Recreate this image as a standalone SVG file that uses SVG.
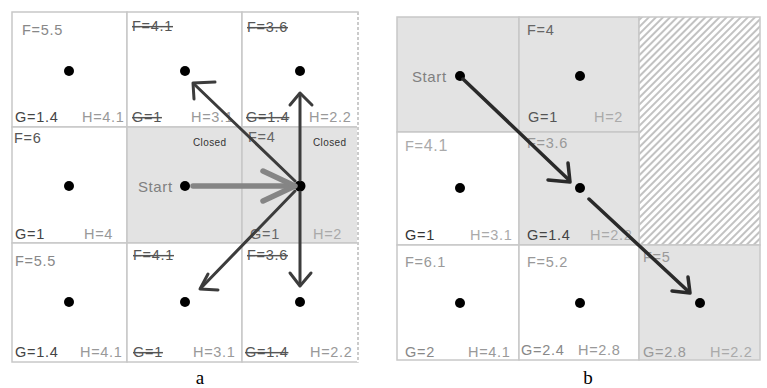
<svg xmlns="http://www.w3.org/2000/svg" width="767" height="388" viewBox="0 0 767 388">
<style>
.cell{stroke:#c8c8c8;stroke-width:1.5;fill:#fff}
.gray{fill:#e3e3e3}
.hatch{fill:url(#hp)}
.t{font-family:"Liberation Sans",Arial,sans-serif;font-size:14.5px;letter-spacing:0.7px}
.c{font-family:"Liberation Sans",Arial,sans-serif;font-size:10px;fill:#333;letter-spacing:0.4px}
.st{font-family:"Liberation Sans",Arial,sans-serif;font-size:15px;fill:#808080;letter-spacing:0.6px}
.s{text-decoration:line-through;fill:#555}
.dot{fill:#000}
.lab{font-family:"Liberation Serif","Times New Roman",serif;font-size:19px;fill:#000;text-anchor:middle}
.arr{fill:none;stroke:#3c3c3c;stroke-width:3;stroke-linecap:round;stroke-linejoin:round}
.arrb{fill:none;stroke:#2a2a2a;stroke-width:3.5;stroke-linecap:round;stroke-linejoin:round}
.thick{fill:none;stroke:#858585;stroke-width:5.5;stroke-linecap:round;stroke-linejoin:round}
</style>
<defs>
<pattern id="hp" patternUnits="userSpaceOnUse" width="5" height="5" patternTransform="rotate(45)">
<rect width="5" height="5" fill="#fff"/>
<line x1="1" y1="0" x2="1" y2="5" stroke="#a8a8a8" stroke-width="1.4"/>
</pattern>
</defs>
<rect width="767" height="388" fill="#fff"/>

<!-- Panel a -->
<g id="a-r1c1"><rect class="cell" x="12" y="12" width="115" height="115"/><circle class="dot" cx="69" cy="71" r="5"/>
<text class="t" x="22" y="35" fill="#888">F=5.5</text><text class="t" x="15" y="122" fill="#444">G=1.4</text><text class="t" x="82" y="122" fill="#999">H=4.1</text></g>
<g id="a-r1c2"><rect class="cell" x="127" y="12" width="115" height="115"/><circle class="dot" cx="185" cy="71" r="5"/>
<text class="t s" x="132" y="31">F=4.1</text><text class="t s" x="132" y="122">G=1</text><text class="t" x="191" y="122" fill="#999">H=3.1</text></g>
<g id="a-r1c3"><rect class="cell" x="242" y="12" width="116" height="115"/><circle class="dot" cx="300" cy="71" r="5"/>
<text class="t s" x="247" y="32">F=3.6</text><text class="t s" x="246" y="122">G=1.4</text><text class="t" x="309" y="122" fill="#999">H=2.2</text></g>

<g id="a-r2c1"><rect class="cell" x="12" y="127" width="115" height="116"/><circle class="dot" cx="69" cy="186" r="5"/>
<text class="t" x="14" y="143" fill="#555">F=6</text><text class="t" x="15" y="239" fill="#444">G=1</text><text class="t" x="84" y="239" fill="#999">H=4</text></g>
<g id="a-r2c2"><rect class="cell gray" x="127" y="127" width="115" height="116"/><circle class="dot" cx="185" cy="186" r="5"/>
<text class="st" x="138" y="192">Start</text><text class="c" x="193" y="146">Closed</text></g>
<g id="a-r2c3"><rect class="cell gray" x="242" y="127" width="116" height="116"/><circle class="dot" cx="300" cy="186" r="5.5"/>
<text class="t" x="248" y="142" fill="#666">F=4</text><text class="c" x="313" y="146">Closed</text>
<text class="t" x="250" y="239" fill="#666">G=1</text><text class="t" x="313" y="239" fill="#aaa">H=2</text></g>

<g id="a-r3c1"><rect class="cell" x="12" y="243" width="115" height="119"/><circle class="dot" cx="69" cy="302" r="5"/>
<text class="t" x="15" y="266" fill="#888">F=5.5</text><text class="t" x="15" y="357" fill="#444">G=1.4</text><text class="t" x="80" y="357" fill="#999">H=4.1</text></g>
<g id="a-r3c2"><rect class="cell" x="127" y="243" width="115" height="119"/><circle class="dot" cx="185" cy="302" r="5"/>
<text class="t s" x="133" y="260">F=4.1</text><text class="t s" x="133" y="357">G=1</text><text class="t" x="193" y="357" fill="#999">H=3.1</text></g>
<g id="a-r3c3"><rect class="cell" x="242" y="243" width="116" height="119"/><circle class="dot" cx="300" cy="302" r="5"/>
<text class="t s" x="247" y="260">F=3.6</text><text class="t s" x="245" y="357">G=1.4</text><text class="t" x="310" y="357" fill="#999">H=2.2</text></g>
<line x1="358" y1="12" x2="358" y2="362" stroke="#fff" stroke-width="2"/>
<line x1="358" y1="12" x2="358" y2="362" stroke="#bbb" stroke-width="1.5" stroke-dasharray="3,2"/>
<text class="lab" x="200" y="384">a</text>

<!-- Panel b -->
<g id="b-r1c1"><rect class="cell gray" x="397" y="17" width="122" height="115"/><circle class="dot" cx="460" cy="76" r="5"/>
<text class="st" x="412" y="82">Start</text></g>
<g id="b-r1c2"><rect class="cell gray" x="519" y="17" width="120" height="115"/><circle class="dot" cx="580" cy="76" r="5"/>
<text class="t" x="527" y="35" fill="#666">F=4</text><text class="t" x="528" y="122" fill="#555">G=1</text><text class="t" x="594" y="122" fill="#aaa">H=2</text></g>
<g id="b-blocked"><rect class="cell hatch" x="639" y="17" width="121" height="228"/></g>

<g id="b-r2c1"><rect class="cell" x="397" y="132" width="122" height="113"/><circle class="dot" cx="460" cy="188" r="5"/>
<text class="t" x="405" y="151" fill="#aaa">F=<tspan font-size="16">4.1</tspan></text><text class="t" x="405" y="240" fill="#333">G=1</text><text class="t" x="470" y="240" fill="#aaa">H=3.1</text></g>
<g id="b-r2c2"><rect class="cell gray" x="519" y="132" width="120" height="113"/><circle class="dot" cx="580" cy="188" r="5"/>
<text class="t" x="527" y="148" fill="#999">F=3.6</text><text class="t" x="527" y="240" fill="#444">G=1.4</text><text class="t" x="590" y="240" fill="#aaa">H=2.2</text></g>

<g id="b-r3c1"><rect class="cell" x="397" y="245" width="122" height="115"/><circle class="dot" cx="460" cy="303" r="5"/>
<text class="t" x="405" y="267" fill="#999">F=6.1</text><text class="t" x="405" y="357" fill="#888">G=2</text><text class="t" x="468" y="357" fill="#999">H=4.1</text></g>
<g id="b-r3c2"><rect class="cell" x="519" y="245" width="120" height="115"/><circle class="dot" cx="580" cy="303" r="5"/>
<text class="t" x="527" y="267" fill="#999">F=5.2</text><text class="t" x="521" y="355" fill="#888">G=2.4</text><text class="t" x="578" y="355" fill="#999">H=2.8</text></g>
<g id="b-r3c3"><rect class="cell gray" x="639" y="245" width="121" height="115"/><circle class="dot" cx="700" cy="303" r="5"/>
<text class="t" x="643" y="262" fill="#999">F=5</text><text class="t" x="643" y="357" fill="#999">G=2.8</text><text class="t" x="710" y="357" fill="#aaa">H=2.2</text></g>
<text class="lab" x="588" y="384">b</text>

<!-- Connectors -->
<g id="connectors">
<line class="thick" x1="193" y1="186" x2="293" y2="186"/>
<polyline class="thick" points="263,171 295,186 263,201"/>
<line class="arr" x1="300" y1="180" x2="300" y2="94"/>
<polyline class="arr" points="290,105 300,93 312,105"/>
<line class="arr" x1="295" y1="181" x2="194" y2="84"/>
<polyline class="arr" points="215,82 193,83 194,99"/>
<line class="arr" x1="295" y1="191" x2="201" y2="288"/>
<polyline class="arr" points="208,274 200,289 218,290"/>
<line class="arr" x1="300" y1="192" x2="300" y2="285"/>
<polyline class="arr" points="290,273 300,286 311,273"/>
<line class="arrb" x1="463" y1="79" x2="569" y2="180"/>
<polyline class="arrb" points="548,180 570,182 568,163"/>
<line class="arrb" x1="589" y1="199" x2="689" y2="292"/>
<polyline class="arrb" points="672,291 690,293 688,277"/>
</g>
</svg>
